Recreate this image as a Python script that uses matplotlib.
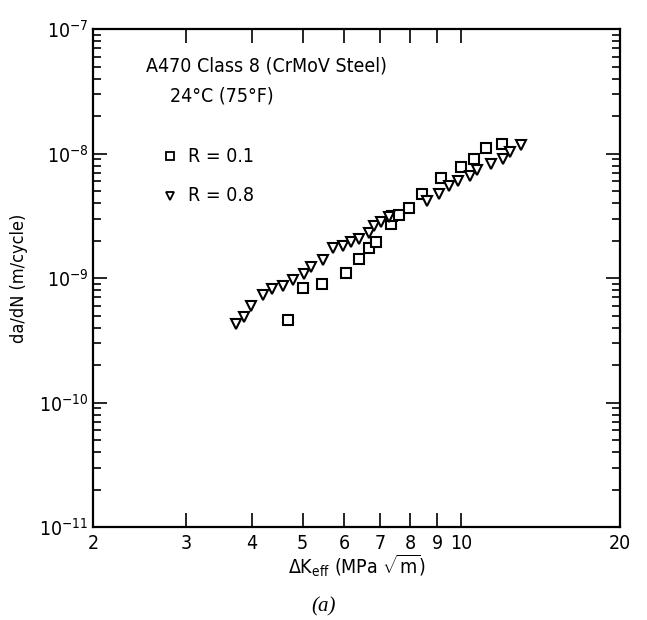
import matplotlib
matplotlib.use("Agg")
import matplotlib.pyplot as plt
from matplotlib.ticker import FixedLocator, FixedFormatter, LogLocator, NullFormatter

# R = 0.1 (squares)
dk_r01 = [4.69, 5.01, 5.43, 6.04, 6.40, 6.69, 6.88, 7.34, 7.39, 7.63, 7.95,
          8.44, 9.14, 9.97, 10.57, 11.14, 11.94]
dadn_r01 = [4.62e-10, 8.28e-10, 8.98e-10, 1.10e-9, 1.41e-9, 1.75e-9, 1.96e-9,
            2.73e-9, 3.15e-9, 3.24e-9, 3.63e-9, 4.76e-9, 6.36e-9, 7.83e-9,
            9.03e-9, 1.11e-8, 1.19e-8]

# R = 0.8 (triangles)
dk_r08 = [3.73, 3.87, 3.99, 4.20, 4.37, 4.59, 4.80, 5.03, 5.18, 5.46, 5.70,
          5.95, 6.18, 6.40, 6.68, 6.83, 7.03, 7.29, 8.60, 9.07, 9.48, 9.87,
          10.39, 10.72, 11.38, 11.98, 12.37, 12.96]
dadn_r08 = [4.30e-10, 4.91e-10, 5.91e-10, 7.37e-10, 8.19e-10, 8.71e-10,
            9.68e-10, 1.07e-9, 1.22e-9, 1.40e-9, 1.75e-9, 1.82e-9, 1.94e-9,
            2.06e-9, 2.29e-9, 2.60e-9, 2.80e-9, 3.11e-9, 4.18e-9, 4.73e-9,
            5.51e-9, 5.97e-9, 6.63e-9, 7.37e-9, 8.23e-9, 9.03e-9, 1.03e-8,
            1.17e-8]

x_ticks = [2, 3, 4, 5, 6, 7, 8, 9, 10, 20]
x_ticklabels = ["2", "3", "4", "5", "6", "7", "8", "9", "10", "20"]

plt.rcParams['font.family'] = ['DejaVu Sans']
plt.rcParams['font.stretch'] = 'condensed'
plt.rcParams['mathtext.fontset'] = 'custom'
plt.rcParams['mathtext.rm'] = 'DejaVu Sans:stretch=condensed'

fig = plt.figure(figsize=(6.47, 6.2), dpi=100)
ax = fig.add_axes([0.144, 0.15, 0.814, 0.803])

ax.plot(dk_r01, dadn_r01, linestyle='none', marker='s', markersize=7,
        markerfacecolor='white', markeredgecolor='black', markeredgewidth=1.5)
ax.plot(dk_r08, dadn_r08, linestyle='none', marker='v', markersize=7.5,
        markerfacecolor='white', markeredgecolor='black', markeredgewidth=1.5)

ax.set_xscale('log')
ax.set_yscale('log')
ax.set_xlim(2, 20)
ax.set_ylim(1e-11, 1e-7)

ax.xaxis.set_major_locator(FixedLocator(x_ticks))
ax.xaxis.set_major_formatter(FixedFormatter(x_ticklabels))
ax.xaxis.set_minor_locator(FixedLocator([]))
ax.yaxis.set_major_locator(LogLocator(base=10, numticks=10))
ax.yaxis.set_minor_locator(LogLocator(base=10, subs=range(2, 10), numticks=20))
ax.yaxis.set_minor_formatter(NullFormatter())

ax.tick_params(which='both', direction='in', top=True, right=True,
               labelsize=14, width=1.2)
ax.tick_params(axis='x', pad=5)
ax.tick_params(which='major', length=10)
ax.tick_params(which='minor', length=6)
for s in ax.spines.values():
    s.set_linewidth(1.6)

ax.set_xlabel(r"$\Delta$K$_{\mathregular{eff}}$ (MPa $\sqrt{\mathregular{m}}$)",
              fontsize=14, labelpad=0)
ax.set_ylabel("da/dN (m/cycle)", fontsize=13, labelpad=8)

ax.text(0.10, 0.915, "A470 Class 8 (CrMoV Steel)", transform=ax.transAxes,
        fontsize=14)
ax.text(0.145, 0.855, "24\u00b0C (75\u00b0F)", transform=ax.transAxes,
        fontsize=14)

ax.plot([0.145], [0.745], transform=ax.transAxes, linestyle='none', marker='s',
        markersize=6, markerfacecolor='white', markeredgecolor='black',
        markeredgewidth=1.3)
ax.text(0.18, 0.745, "R = 0.1", transform=ax.transAxes, fontsize=14,
        va='center')
ax.plot([0.145], [0.665], transform=ax.transAxes, linestyle='none', marker='v',
        markersize=6, markerfacecolor='white', markeredgecolor='black',
        markeredgewidth=1.3)
ax.text(0.18, 0.665, "R = 0.8", transform=ax.transAxes, fontsize=14,
        va='center')

fig.text(0.5, 0.022, "(a)", fontsize=15, style='italic', ha='center',
         va='center', family='Liberation Serif', stretch='normal')

fig.savefig("out.png", dpi=100)
